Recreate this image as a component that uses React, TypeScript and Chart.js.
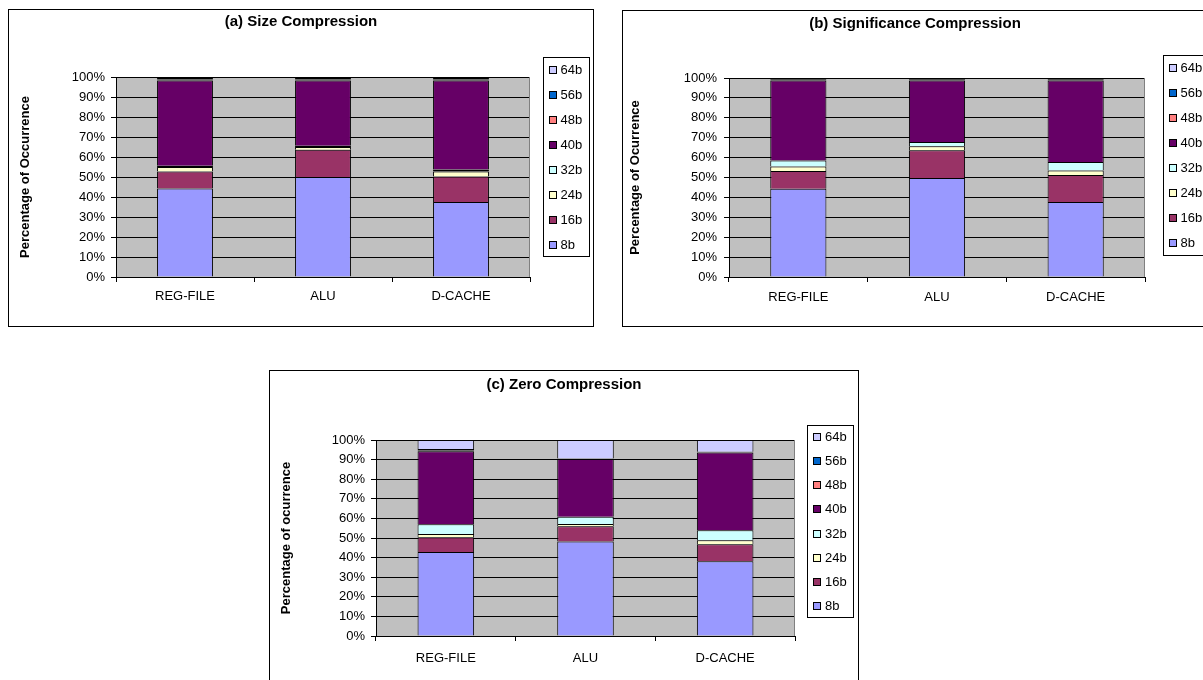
import React, { useEffect, useRef } from 'react';
import { Chart, registerables } from 'chart.js';

Chart.register(...registerables);

const FONT = '"Liberation Sans", Arial, Helvetica, sans-serif';
Chart.defaults.font.family = FONT;
Chart.defaults.color = '#000';

// ---------- data ----------
const CATEGORIES = ['REG-FILE', 'ALU', 'D-CACHE'];
const SERIES = ['8b', '16b', '24b', '32b', '40b', '48b', '56b', '64b'];
const SERIES_COLORS = ['#9999FF', '#993366', '#FFFFCC', '#CCFFFF', '#660066', '#FF8080', '#0066CC', '#CCCCFF'];
const Y_TICKS = [0, 10, 20, 30, 40, 50, 60, 70, 80, 90, 100];

// (a) Size Compression  [REG-FILE, ALU, D-CACHE]
const SIZE_8B = [44.2, 50.0, 37.5];
const SIZE_16B = [8.6, 13.6, 12.8];
const SIZE_24B = [2.2, 1.4, 2.5];
const SIZE_32B = [0.6, 0.6, 1.0];
const SIZE_40B = [42.7, 32.7, 44.5];
const SIZE_48B = [0.4, 0.4, 0.4];
const SIZE_56B = [0.8, 0.8, 0.8];
const SIZE_64B = [0.5, 0.5, 0.5];

// (b) Significance Compression
const SIG_8B = [44.4, 49.7, 37.7];
const SIG_16B = [8.9, 14.0, 13.6];
const SIG_24B = [2.2, 2.0, 2.2];
const SIG_32B = [3.1, 2.2, 4.3];
const SIG_40B = [40.2, 30.9, 41.0];
const SIG_48B = [0.3, 0.3, 0.3];
const SIG_56B = [0.5, 0.5, 0.5];
const SIG_64B = [0.4, 0.4, 0.4];

// (c) Zero Compression
const ZERO_8B = [42.8, 48.2, 38.2];
const ZERO_16B = [7.6, 7.8, 8.6];
const ZERO_24B = [1.6, 1.2, 2.0];
const ZERO_32B = [5.0, 3.6, 5.2];
const ZERO_40B = [37.3, 29.5, 39.6];
const ZERO_48B = [0.3, 0.1, 0.1];
const ZERO_56B = [0.8, 0.2, 0.3];
const ZERO_64B = [4.6, 9.4, 6.0];

// ---------- plugins ----------
const plotBg = {
  id: 'plotBg',
  beforeDraw(chart: any) {
    const { ctx, chartArea: a } = chart;
    ctx.save();
    ctx.fillStyle = '#C0C0C0';
    ctx.fillRect(a.left, a.top, a.right - a.left, a.bottom - a.top);
    ctx.restore();
  },
  afterDatasetsDraw(chart: any) {
    const { ctx, chartArea: a } = chart;
    ctx.save();
    ctx.strokeStyle = '#808080';
    ctx.lineWidth = 1;
    ctx.beginPath();
    const x = Math.round(a.right) - 0.5;
    ctx.moveTo(x, a.top);
    ctx.lineTo(x, a.bottom);
    ctx.stroke();
    ctx.restore();
  },
};

const boxedLegend = {
  id: 'boxedLegend',
  afterDraw(chart: any, _args: any, opts: any) {
    const { ctx } = chart;
    const { x, y, w, h } = opts;
    ctx.save();
    ctx.fillStyle = '#fff';
    ctx.fillRect(x, y, w, h);
    ctx.strokeStyle = '#000';
    ctx.lineWidth = 1;
    ctx.strokeRect(Math.round(x) + 0.5, Math.round(y) + 0.5, Math.round(w) - 1, Math.round(h) - 1);
    const ds = chart.data.datasets;
    const n = ds.length;
    const step = h / n;
    ctx.font = `13px ${FONT}`;
    ctx.textBaseline = 'middle';
    ctx.textAlign = 'left';
    for (let i = 0; i < n; i++) {
      const d = ds[n - 1 - i];
      const cy = Math.round(y + step * (i + 0.5));
      const bx = Math.round(x + 6);
      ctx.fillStyle = d.backgroundColor;
      ctx.fillRect(bx, cy - 4, 8, 8);
      ctx.strokeStyle = '#000';
      ctx.strokeRect(bx + 0.5, cy - 3.5, 7, 7);
      ctx.fillStyle = '#000';
      ctx.fillText(d.label, x + 18, cy);
    }
    ctx.restore();
  },
};

type PanelSpec = {
  title: string;
  yTitle: string;
  values: number[][];
  box: { left: number; top: number; width: number; height: number };
  plot: { left: number; right: number; top: number; bottom: number };
  titleTop: number;
  yTitlePad: number;
  yTickPad: number;
  xTickPad: number;
  legend: { x: number; y: number; w: number; h: number };
};

function Panel({ spec }: { spec: PanelSpec }) {
  const ref = useRef<HTMLCanvasElement | null>(null);
  const cw = spec.box.width - 2;
  const ch = spec.box.height - 2;

  useEffect(() => {
    if (!ref.current) return;
    const { plot } = spec;
    const chart = new Chart(ref.current, {
      type: 'bar',
      data: {
        labels: CATEGORIES,
        datasets: SERIES.map((s, i) => ({
          label: s,
          data: spec.values[i],
          backgroundColor: SERIES_COLORS[i],
          borderColor: '#000',
          // thin slivers are fully outlined (appear as dark lines), others get a single top edge line
          borderWidth: (c: any) =>
            Math.abs(c.raw ?? 0) < 1.1 ? 1 : { top: 1, right: 1, bottom: 0, left: 1 },
          borderSkipped: false,
          barPercentage: 0.405,
          categoryPercentage: 1,
        })),
      },
      options: {
        animation: false,
        responsive: false,
        maintainAspectRatio: false,
        layout: { padding: 0 },
        plugins: {
          legend: { display: false },
          tooltip: { enabled: false },
          title: {
            display: true,
            text: spec.title,
            color: '#000',
            font: { size: 15, weight: 'bold', family: FONT },
            padding: { top: spec.titleTop, bottom: plot.top - spec.titleTop - 18 },
          },
          boxedLegend: spec.legend,
        } as any,
        scales: {
          x: {
            stacked: true,
            offset: true,
            grid: {
              display: true,
              drawOnChartArea: false,
              drawTicks: true,
              tickLength: 5,
              color: '#000',
              offset: true,
            },
            border: { display: true, color: '#000' },
            ticks: {
              color: '#000',
              font: { size: 13, family: FONT },
              padding: spec.xTickPad,
              maxRotation: 0,
              autoSkip: false,
            },
            afterFit: (s: any) => {
              s.height = ch - plot.bottom;
            },
          },
          y: {
            stacked: true,
            position: 'left',
            min: 0,
            max: 100,
            afterBuildTicks: (s: any) => {
              s.ticks = Y_TICKS.map((v) => ({ value: v }));
            },
            ticks: {
              color: '#000',
              font: { size: 13, family: FONT },
              padding: spec.yTickPad,
              callback: (v: any) => `${v}%`,
            },
            grid: { color: '#000', tickLength: 5, tickColor: '#000', lineWidth: 1 },
            border: { display: true, color: '#000' },
            title: {
              display: true,
              text: spec.yTitle,
              color: '#000',
              font: { size: 13, weight: 'bold', family: FONT },
              padding: { top: spec.yTitlePad, bottom: 0 },
            },
            afterFit: (s: any) => {
              s.width = plot.left;
            },
          },
          yRight: {
            type: 'linear',
            position: 'right',
            display: true,
            grid: { display: false, drawTicks: false },
            border: { display: false },
            ticks: { display: false },
            afterFit: (s: any) => {
              s.width = cw - plot.right;
            },
          },
        } as any,
      },
      plugins: [plotBg, boxedLegend],
    });
    return () => chart.destroy();
  }, [spec, cw, ch]);

  return (
    <div
      style={{
        position: 'absolute',
        left: spec.box.left,
        top: spec.box.top,
        width: spec.box.width,
        height: spec.box.height,
        border: '1px solid #000',
        boxSizing: 'border-box',
        background: '#fff',
      }}
    >
      <canvas ref={ref} width={cw} height={ch} style={{ display: 'block', width: cw, height: ch }} />
    </div>
  );
}

const PANEL_A: PanelSpec = {
  title: '(a) Size Compression',
  yTitle: 'Percentage of Occurrence',
  values: [SIZE_8B, SIZE_16B, SIZE_24B, SIZE_32B, SIZE_40B, SIZE_48B, SIZE_56B, SIZE_64B],
  box: { left: 8, top: 9, width: 586, height: 318 },
  plot: { left: 107, right: 521, top: 67, bottom: 267 },
  titleTop: 3,
  yTitlePad: 9,
  yTickPad: 6,
  xTickPad: 7,
  legend: { x: 533.5, y: 47, w: 47, h: 200 },
};

const PANEL_B: PanelSpec = {
  title: '(b) Significance Compression',
  yTitle: 'Percentage of Ocurrence',
  values: [SIG_8B, SIG_16B, SIG_24B, SIG_32B, SIG_40B, SIG_48B, SIG_56B, SIG_64B],
  box: { left: 622, top: 10, width: 586, height: 317 },
  plot: { left: 106, right: 522, top: 67, bottom: 266 },
  titleTop: 4,
  yTitlePad: 4.2,
  yTickPad: 7,
  xTickPad: 8,
  legend: { x: 539.5, y: 44, w: 47, h: 201 },
};

const PANEL_C: PanelSpec = {
  title: '(c) Zero Compression',
  yTitle: 'Percentage of ocurrence',
  values: [ZERO_8B, ZERO_16B, ZERO_24B, ZERO_32B, ZERO_40B, ZERO_48B, ZERO_56B, ZERO_64B],
  box: { left: 269, top: 370, width: 590, height: 318 },
  plot: { left: 106, right: 525, top: 69, bottom: 265 },
  titleTop: 5,
  yTitlePad: 8.2,
  yTickPad: 6,
  xTickPad: 10,
  legend: { x: 537, y: 54, w: 47, h: 193 },
};

export default function App() {
  return (
    <div
      style={{
        position: 'fixed',
        left: 0,
        top: 0,
        width: 1203,
        height: 680,
        overflow: 'hidden',
        background: '#fff',
      }}
    >
      <Panel spec={PANEL_A} />
      <Panel spec={PANEL_B} />
      <Panel spec={PANEL_C} />
    </div>
  );
}
